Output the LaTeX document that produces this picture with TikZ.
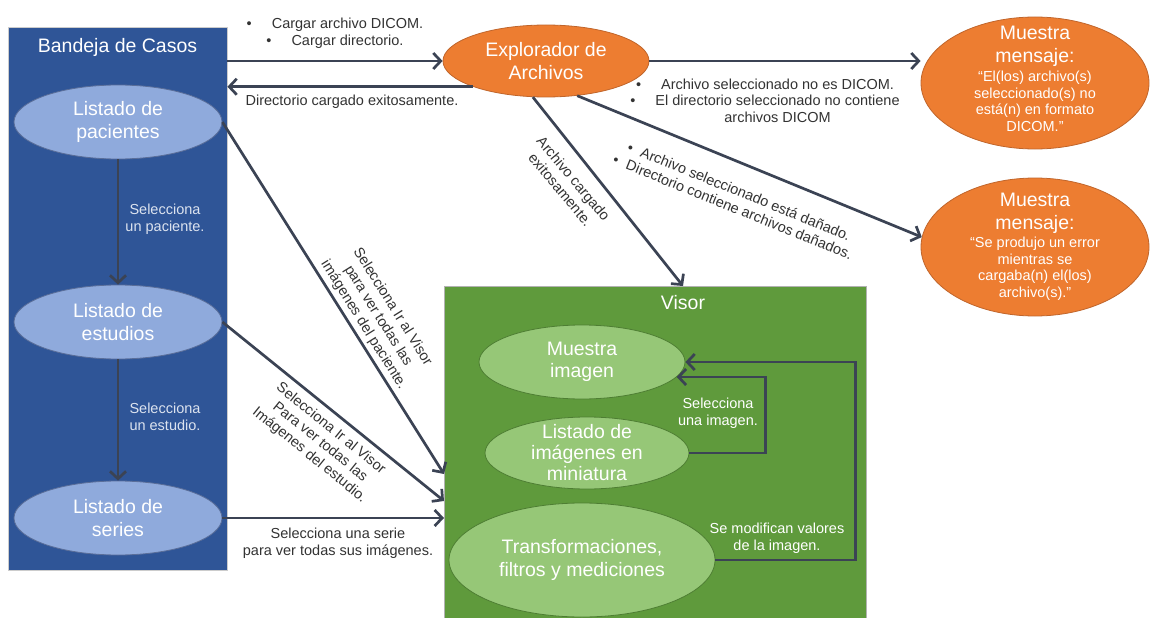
\documentclass[tikz,border=0pt]{standalone}
\usepackage{fontspec}
\setmainfont{Liberation Sans}
\usetikzlibrary{arrows.meta,shapes.geometric,calc}
\definecolor{bandejaBlue}{HTML}{2F5597}
\definecolor{lightBlue}{HTML}{8FAADC}
\definecolor{blueEdge}{HTML}{5A6E99}
\definecolor{orangeC}{HTML}{ED7D31}
\definecolor{orangeD}{HTML}{C0652B}
\definecolor{visorGreen}{HTML}{5F9A3C}
\definecolor{lightGreen}{HTML}{96C777}
\definecolor{greenEdge}{HTML}{4E7E33}
\definecolor{arrowC}{HTML}{3B4354}
\definecolor{labelC}{HTML}{333333}
\definecolor{paleTxt}{HTML}{DCE3EF}
\begin{document}
\begin{tikzpicture}[x=1pt,y=-1pt,
  bigtxt/.style={font=\fontsize{19.5}{22.5}\selectfont},
  smalltxt/.style={font=\fontsize{14.5}{17}\selectfont},
  oval/.style={ellipse, inner sep=0pt, line width=0.8pt},
  ovtext/.style={bigtxt, text=white, align=center, inner sep=0pt},
  msgtext/.style={font=\fontsize{14.5}{16.5}\selectfont, text=white, align=center, inner sep=0pt},
  blueoval/.style={oval, fill=lightBlue, draw=blueEdge},
  orangeoval/.style={oval, fill=orangeC, draw=orangeD},
  greenoval/.style={oval, fill=lightGreen, draw=greenEdge},
  arr/.style={draw=arrowC, line width=2.7pt, -{Straight Barb[length=7.5pt,width=16pt]}},
  lbl/.style={smalltxt, text=labelC, align=center, inner sep=0pt},
  wlbl/.style={lbl, text=white},
  plbl/.style={lbl, text=paleTxt},
]
\useasboundingbox (0,0) rectangle (1152,618);
\fill[white] (0,0) rectangle (1152,618);

% Bandeja de casos
\node[draw=gray!40, fill=bandejaBlue, minimum width=219pt, minimum height=543pt, anchor=north west, inner sep=0pt] (bandeja) at (8,27) {};
\node[bigtxt, text=white] (btitle) at (117.5,47) {Bandeja de Casos};
\node[blueoval, minimum width=208pt, minimum height=74pt] (pac) at (118,122) {};
\node[ovtext] (pacT) at (pac) {Listado de\\pacientes};
\node[blueoval, minimum width=208pt, minimum height=74pt] (est) at (118,322) {};
\node[ovtext] (estT) at (est) {Listado de\\estudios};
\node[blueoval, minimum width=208pt, minimum height=74pt] (ser) at (118,518) {};
\node[ovtext] (serT) at (ser) {Listado de\\series};

% Visor
\node[draw=gray!60, fill=visorGreen, minimum width=422pt, minimum height=340pt, anchor=north west, inner sep=0pt] (visor) at (444,286) {};
\node[bigtxt, text=white] (vtitle) at (683,303) {Visor};
\node[greenoval, minimum width=206pt, minimum height=74pt] (mimg) at (582,362) {};
\node[ovtext] (mimgT) at (mimg) {Muestra\\imagen};
\node[greenoval, minimum width=204pt, minimum height=72pt] (mini) at (587,453) {};
\node[ovtext, font=\fontsize{19.5}{21}\selectfont] (miniT) at (mini) {Listado de\\imágenes en\\miniatura};
\node[greenoval, minimum width=266pt, minimum height=114pt] (trans) at (582,560) {};
\node[ovtext] (transT) at (trans) {Transformaciones,\\filtros y mediciones};

% Explorador y mensajes
\node[orangeoval, minimum width=206pt, minimum height=72pt] (expl) at (546,61) {};
\node[ovtext] (explT) at (expl) {Explorador de\\Archivos};
\node[orangeoval, minimum width=228pt, minimum height=132pt] (msg1) at (1035,83) {};
\node[ovtext] (msg1A) at (1035,46.5) {Muestra\\mensaje:};
\node[msgtext] (msg1B) at (1035,101.5) {“El(los) archivo(s)\\seleccionado(s) no\\está(n) en formato\\DICOM.”};
\node[orangeoval, minimum width=228pt, minimum height=138pt] (msg2) at (1035,247) {};
\node[ovtext] (msg2A) at (1035,213.5) {Muestra\\mensaje:};
\node[msgtext] (msg2B) at (1035,268.5) {“Se produjo un error\\mientras se\\cargaba(n) el(los)\\archivo(s).”};

% Connectors
\draw[arr] (bandeja.east |- expl.west) -- (expl.west);
\draw[arr] (expl.south west) -- (bandeja.east |- expl.south west);
\draw[arr] (expl.east) -- (expl.east -| msg1.west);
\draw[arr] (expl.-48) -- (msg2.175);
\draw[arr] (expl.-110) -- (visor.north -| vtitle);
\draw[arr] (pac.east) -- ($(visor.north west)+(0,188)$);
\draw[arr] (est.east) -- ($(visor.north west)+(0,215)$);
\draw[arr] (ser.east) -- (ser.east -| visor.west);
\draw[arr] (pac) -- (est);
\draw[arr] (est) -- (ser);
\draw[arr] (mini.east) -- ++(76,0) |- (mimg.-9);
\draw[arr] (trans.east) -- ++(140,0) |- (mimg.east);

% Labels
\node[lbl] (l1) at (335,33.5) {•\hspace{20pt}Cargar archivo DICOM.\\•\hspace{20pt}Cargar directorio.};
\node[lbl] (l2) at (352,102) {Directorio cargado exitosamente.};
\node[lbl, font=\fontsize{14.5}{16.5}\selectfont] (l3) at (765,100.5) {•\hspace{20pt}Archivo seleccionado no es DICOM.\\•\hspace{20pt}El directorio seleccionado no contiene\\\phantom{•\hspace{20pt}}archivos DICOM};
\node[lbl, rotate=-22] (l4) at (736,199) {•\hspace{9pt}Archivo seleccionado está dañado.\\•\hspace{9pt}Directorio contiene archivos dañados.};
\node[lbl, rotate=-50] (l5) at (567,184) {Archivo cargado\\exitosamente.};
\node[lbl, rotate=-58] (l6) at (378,316) {Selecciona Ir al Visor\\para ver todas las\\imágenes del paciente.};
\node[lbl, rotate=-39] (l7) at (320,442) {Selecciona Ir al Visor\\Para ver todas las\\Imágenes del estudio.};
\node[lbl] (l8) at (338,543.5) {Selecciona una serie\\para ver todas sus imágenes.};
\node[plbl] (l9) at (165,219) {Selecciona\\un paciente.};
\node[plbl] (l10) at (165,417) {Selecciona\\un estudio.};
\node[wlbl] (l11) at (718,413.5) {Selecciona\\una imagen.};
\node[wlbl] (l12) at (777,538.5) {Se modifican valores\\de la imagen.};
\end{tikzpicture}
\end{document}
